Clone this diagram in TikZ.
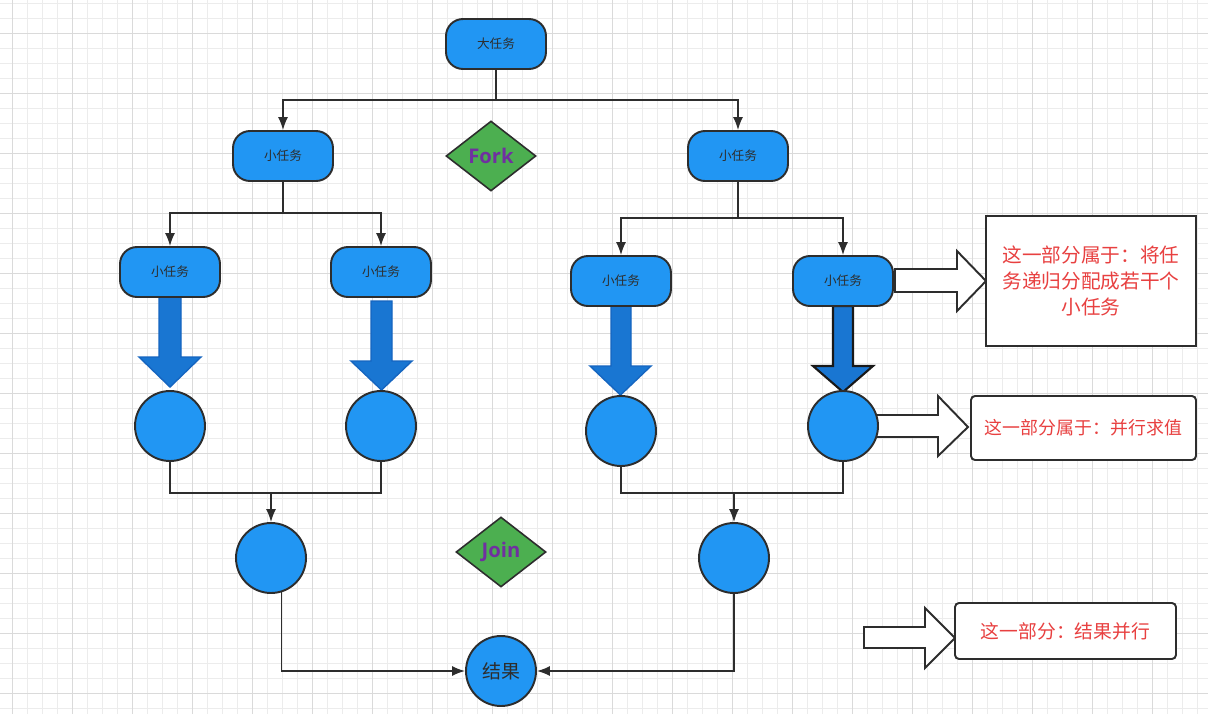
\documentclass[tikz,border=0pt]{standalone}
\usepackage{fontspec}
\setmainfont{Noto Sans CJK SC}
\newfontfamily\latinfont{Open Sans}
\usetikzlibrary{shapes.geometric,arrows.meta}
\definecolor{nodeblue}{RGB}{33,150,243}
\definecolor{arrowblue}{RGB}{25,118,210}
\definecolor{arrowedge}{RGB}{21,101,192}
\definecolor{edge}{RGB}{45,45,45}
\definecolor{gridminor}{RGB}{236,236,236}
\definecolor{gridmajor}{RGB}{218,218,218}
\definecolor{dgreen}{RGB}{76,175,80}
\definecolor{purp}{RGB}{112,48,160}
\definecolor{redtxt}{RGB}{232,64,64}
\pgfdeclarelayer{bg}
\pgfsetlayers{bg,main}
\tikzset{
 tasknode/.style={rectangle, rounded corners=0.34cm, minimum width=2cm, minimum height=1cm, fill=nodeblue, draw=edge, line width=1.1pt, font=\fontsize{7.2}{9}\selectfont, text=edge, inner sep=0pt},
 ball/.style={circle, minimum size=1.4cm, fill=nodeblue, draw=edge, line width=1.1pt, inner sep=0pt, text=edge},
 gate/.style={diamond, aspect=1.29, minimum width=1.8cm, minimum height=1.4cm, inner sep=0pt, fill=dgreen, draw=edge, line width=0.9pt, text=purp, font=\latinfont\bfseries\fontsize{11.5}{13}\selectfont},
 conn/.style={draw=edge, line width=0.85pt},
 arr/.style={conn, -{Latex[length=0.26cm,width=0.2cm]}},
 blockarrow/.style={fill=arrowblue, draw=arrowedge, line width=0.8pt, line join=miter},
 hollow/.style={fill=white, draw=edge, line width=1.1pt, line join=miter},
 notebox/.style={rectangle, fill=white, draw=edge, line width=1.1pt, text=redtxt, inner sep=0pt, align=center},
 gminor/.style={draw=gridminor, line width=0.55pt},
 gmajor/.style={draw=gridmajor, line width=0.55pt},
}
\begin{document}
\begin{tikzpicture}[x=0.02cm,y=-0.02cm]
\useasboundingbox (0,0) rectangle (1208,714);
\begin{pgfonlayer}{bg}
\fill[white] (0,0) rectangle (1208,714);
\foreach \i in {0,...,80} \draw[gminor] ({12.7+15*\i},0) -- ({12.7+15*\i},714);
\foreach \j in {0,...,47} \draw[gminor] (0,{3.3+15*\j}) -- (1208,{3.3+15*\j});
\foreach \i in {0,...,20} \draw[gmajor] ({12.7+60*\i},0) -- ({12.7+60*\i},714);
\foreach \j in {0,...,11} \draw[gmajor] (0,{33.3+60*\j}) -- (1208,{33.3+60*\j});
\end{pgfonlayer}

% block arrows (filled)
\path[blockarrow] (159,297) -- (159,357) -- (139,357) -- (170,387) -- (201,357) -- (181,357) -- (181,297) -- cycle;
\path[blockarrow] (371,301) -- (371,361) -- (351,361) -- (381.5,390) -- (412,361) -- (392,361) -- (392,301) -- cycle;
\path[blockarrow] (611,306) -- (611,366) -- (590,366) -- (620.5,395) -- (651,366) -- (631,366) -- (631,306) -- cycle;
\path[blockarrow, draw=black!90, line width=1.2pt] (833,306) -- (833,366) -- (813,366) -- (843,392) -- (873,366) -- (853,366) -- (853,306) -- cycle;

% hollow arrows
\path[hollow] (895,269) -- (957,269) -- (957,251) -- (986,281) -- (957,311) -- (957,292) -- (895,292) -- cycle;
\path[hollow] (860,415) -- (938,415) -- (938,396) -- (968,427) -- (938,456) -- (938,437) -- (860,437) -- cycle;
\path[hollow] (864,627) -- (925,627) -- (925,608) -- (955,638) -- (925,668) -- (925,648) -- (864,648) -- cycle;

% nodes
\node[tasknode] (big) at (496,44) {大任务};
\node[tasknode] (ls) at (283,156) {小任务};
\node[tasknode] (rs) at (738,156) {小任务};
\node[gate] (fork) at (491,156) {Fork};
\node[tasknode] (lls) at (170,272) {小任务};
\node[tasknode] (lrs) at (381,272) {小任务};
\node[tasknode] (rls) at (621,281) {小任务};
\node[tasknode] (rrs) at (843,281) {小任务};
\node[ball] (llc) at (170,426) {};
\node[ball] (lrc) at (381,426) {};
\node[ball] (rlc) at (621,431) {};
\node[ball] (rrc) at (843,426) {};
\node[ball] (lj) at (271,558) {};
\node[ball] (rj) at (734,558) {};
\node[gate] (join) at (501,552) {Join};
\node[ball, font=\fontsize{10.8}{13}\selectfont] (res) at (501,671) {结果};

\node[notebox, minimum width=4.2cm, minimum height=2.6cm, font=\fontsize{11.2}{14.8}\selectfont] (n1) at (1091,281) {这一部分属于：将任\\务递归分配成若干个\\小任务};
\node[notebox, rounded corners=0.08cm, minimum width=4.5cm, minimum height=1.28cm, font=\fontsize{10.2}{12}\selectfont] (n2) at (1083.5,428) {这一部分属于：并行求值};
\node[notebox, rounded corners=0.08cm, minimum width=4.42cm, minimum height=1.12cm, font=\fontsize{10.7}{12}\selectfont] (n3) at (1065.5,631) {这一部分：结果并行};

% connectors
\coordinate (f1) at (496,100);
\coordinate (f2) at (283,213);
\coordinate (f3) at (738,218);
\coordinate (j1) at (271,493);
\coordinate (j2) at (734,493);
\draw[conn] (big.south) -- (f1);
\draw[arr] (f1) -| (ls.north);
\draw[arr] (f1) -| (rs.north);
\draw[conn] (ls.south) -- (f2);
\draw[arr] (f2) -| (lls.north);
\draw[arr] (f2) -| (lrs.north);
\draw[conn] (rs.south) -- (f3);
\draw[arr] (f3) -| (rls.north);
\draw[arr] (f3) -| (rrs.north);
\draw[conn] (llc.south) |- (j1) -| (lrc.south);
\draw[arr] (j1) -- (lj.north);
\draw[conn] (rlc.south) |- (j2) -| (rrc.south);
\draw[arr] (j2) -- (rj.north);
\draw[arr] (lj.-73) |- (res.west);
\draw[arr] (rj.south) |- (res.east);
\end{tikzpicture}
\end{document}
